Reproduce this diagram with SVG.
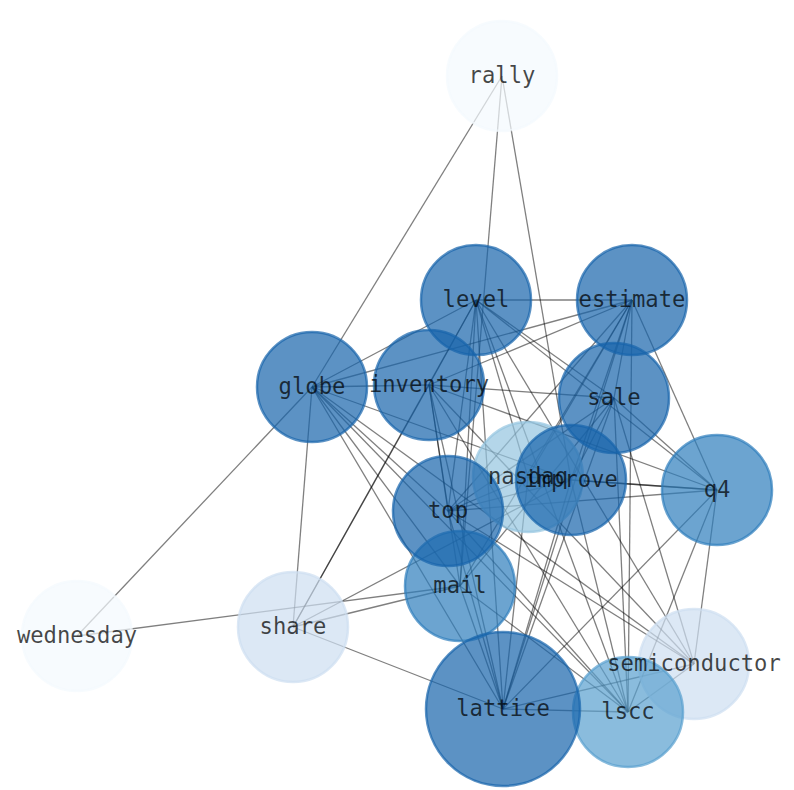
<svg xmlns="http://www.w3.org/2000/svg" width="794" height="790" viewBox="0 0 794 790">
<style>
.e line{stroke:#000;stroke-opacity:0.5;stroke-width:1.3}
.n circle{fill-opacity:0.7;stroke-opacity:0.7;stroke-width:2.5}
.lb text{font-family:"DejaVu Sans Mono","Liberation Mono",monospace;font-size:22.2px;fill:#000;fill-opacity:0.72;text-anchor:middle}
.c0{fill:#f4f9fe;stroke:#f4f9fe}
.c1{fill:#cddef1;stroke:#cddef1}
.c2{fill:#94c4df;stroke:#94c4df}
.c3{fill:#59a0cf;stroke:#59a0cf}
.c4{fill:#2e7ebc;stroke:#2e7ebc}
.c5{fill:#1764ab;stroke:#1764ab}
</style>
<rect width="794" height="790" fill="#fff"/>
<g id="edges" class="e">
<line x1="502" y1="76" x2="312" y2="387"/>
<line x1="502" y1="76" x2="460" y2="586"/>
<line x1="502" y1="76" x2="571" y2="480"/>
<line x1="77" y1="636" x2="312" y2="387"/>
<line x1="77" y1="636" x2="460" y2="586"/>
<line x1="293" y1="627" x2="312" y2="387"/>
<line x1="293" y1="627" x2="429" y2="385"/>
<line x1="293" y1="627" x2="476" y2="300"/>
<line x1="293" y1="627" x2="460" y2="586"/>
<line x1="293" y1="627" x2="503" y2="709"/>
<line x1="293" y1="627" x2="571" y2="480"/>
<line x1="312" y1="387" x2="476" y2="300"/>
<line x1="312" y1="387" x2="632" y2="300"/>
<line x1="312" y1="387" x2="429" y2="385"/>
<line x1="312" y1="387" x2="448" y2="511"/>
<line x1="312" y1="387" x2="460" y2="586"/>
<line x1="312" y1="387" x2="503" y2="709"/>
<line x1="312" y1="387" x2="694" y2="664"/>
<line x1="312" y1="387" x2="628" y2="712"/>
<line x1="312" y1="387" x2="571" y2="480"/>
<line x1="476" y1="300" x2="632" y2="300"/>
<line x1="476" y1="300" x2="429" y2="385"/>
<line x1="476" y1="300" x2="448" y2="511"/>
<line x1="476" y1="300" x2="460" y2="586"/>
<line x1="476" y1="300" x2="503" y2="709"/>
<line x1="476" y1="300" x2="628" y2="712"/>
<line x1="476" y1="300" x2="528" y2="477"/>
<line x1="476" y1="300" x2="614" y2="398"/>
<line x1="476" y1="300" x2="717" y2="490"/>
<line x1="476" y1="300" x2="694" y2="664"/>
<line x1="632" y1="300" x2="429" y2="385"/>
<line x1="632" y1="300" x2="448" y2="511"/>
<line x1="632" y1="300" x2="460" y2="586"/>
<line x1="632" y1="300" x2="528" y2="477"/>
<line x1="632" y1="300" x2="571" y2="480"/>
<line x1="632" y1="300" x2="503" y2="709"/>
<line x1="632" y1="300" x2="614" y2="398"/>
<line x1="632" y1="300" x2="628" y2="712"/>
<line x1="632" y1="300" x2="717" y2="490"/>
<line x1="429" y1="385" x2="614" y2="398"/>
<line x1="429" y1="385" x2="448" y2="511"/>
<line x1="429" y1="385" x2="460" y2="586"/>
<line x1="429" y1="385" x2="503" y2="709"/>
<line x1="429" y1="385" x2="717" y2="490"/>
<line x1="429" y1="385" x2="694" y2="664"/>
<line x1="429" y1="385" x2="628" y2="712"/>
<line x1="614" y1="398" x2="448" y2="511"/>
<line x1="614" y1="398" x2="571" y2="480"/>
<line x1="614" y1="398" x2="460" y2="586"/>
<line x1="614" y1="398" x2="503" y2="709"/>
<line x1="614" y1="398" x2="628" y2="712"/>
<line x1="614" y1="398" x2="717" y2="490"/>
<line x1="614" y1="398" x2="694" y2="664"/>
<line x1="571" y1="480" x2="448" y2="511"/>
<line x1="571" y1="480" x2="717" y2="490"/>
<line x1="571" y1="480" x2="503" y2="709"/>
<line x1="571" y1="480" x2="628" y2="712"/>
<line x1="717" y1="490" x2="448" y2="511"/>
<line x1="717" y1="490" x2="528" y2="477"/>
<line x1="717" y1="490" x2="503" y2="709"/>
<line x1="717" y1="490" x2="628" y2="712"/>
<line x1="717" y1="490" x2="694" y2="664"/>
<line x1="448" y1="511" x2="503" y2="709"/>
<line x1="448" y1="511" x2="628" y2="712"/>
<line x1="448" y1="511" x2="528" y2="477"/>
<line x1="448" y1="511" x2="694" y2="664"/>
<line x1="460" y1="586" x2="503" y2="709"/>
<line x1="460" y1="586" x2="628" y2="712"/>
<line x1="528" y1="477" x2="503" y2="709"/>
<line x1="503" y1="709" x2="628" y2="712"/>
<line x1="503" y1="709" x2="694" y2="664"/>
<line x1="628" y1="712" x2="694" y2="664"/>
</g>
<g id="nodes" class="n">
<g id="rally"><circle class="c0" cx="502" cy="76" r="55"/></g>
<g id="wednesday"><circle class="c0" cx="77" cy="636" r="55"/></g>
<g id="share"><circle class="c1" cx="293" cy="627" r="55"/></g>
<g id="semiconductor"><circle class="c1" cx="694" cy="664" r="55"/></g>
<g id="nasdaq"><circle class="c2" cx="528" cy="477" r="55"/></g>
<g id="lscc"><circle class="c3" cx="628" cy="712" r="55"/></g>
<g id="q4"><circle class="c4" cx="717" cy="490" r="55"/></g>
<g id="mail"><circle class="c4" cx="460" cy="586" r="55"/></g>
<g id="level"><circle class="c5" cx="476" cy="300" r="55"/></g>
<g id="estimate"><circle class="c5" cx="632" cy="300" r="55"/></g>
<g id="globe"><circle class="c5" cx="312" cy="387" r="55"/></g>
<g id="inventory"><circle class="c5" cx="429" cy="385" r="55"/></g>
<g id="sale"><circle class="c5" cx="614" cy="398" r="55"/></g>
<g id="improve"><circle class="c5" cx="571" cy="480" r="55"/></g>
<g id="top"><circle class="c5" cx="448" cy="511" r="55"/></g>
<g id="lattice"><circle class="c5" cx="503" cy="709" r="77"/></g>
</g>
<g id="labels" class="lb">
<text id="label-rally" x="502" y="83">rally</text>
<text id="label-wednesday" x="77" y="643">wednesday</text>
<text id="label-share" x="293" y="634">share</text>
<text id="label-semiconductor" x="694" y="671">semiconductor</text>
<text id="label-nasdaq" x="528" y="484">nasdaq</text>
<text id="label-lscc" x="628" y="719">lscc</text>
<text id="label-q4" x="717" y="497">q4</text>
<text id="label-mail" x="460" y="593">mail</text>
<text id="label-level" x="476" y="307">level</text>
<text id="label-estimate" x="632" y="307">estimate</text>
<text id="label-globe" x="312" y="394">globe</text>
<text id="label-inventory" x="429" y="392">inventory</text>
<text id="label-sale" x="614" y="405">sale</text>
<text id="label-improve" x="571" y="487">improve</text>
<text id="label-top" x="448" y="518">top</text>
<text id="label-lattice" x="503" y="716">lattice</text>
</g>
</svg>
